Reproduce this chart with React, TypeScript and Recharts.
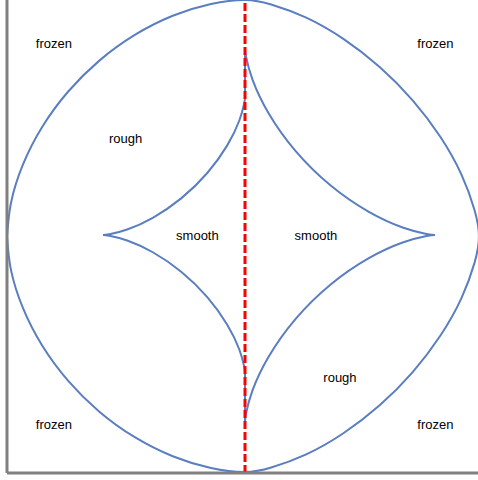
import { LineChart, Line, XAxis, YAxis, ReferenceLine, ReferenceDot } from "recharts";

// outer boundary (frozen / rough), read from the left extreme going down, round and back
const outerX = [
  -1.0, -0.9831, -0.9332, -0.8523, -0.7437, -0.612, -0.463, -0.3036, -0.1429, 0.0,
  0.1101, 0.2572, 0.4133, 0.5658, 0.7045, 0.8213, 0.9095, 0.9643, 0.983,
  0.9643, 0.9095, 0.8213, 0.7045, 0.5658, 0.4133, 0.2572, 0.1101, 0.0,
  -0.1429, -0.3036, -0.463, -0.612, -0.7437, -0.8523, -0.9332, -0.9831, -1.0,
];
const outerY = [
  0.0, -0.1423, -0.3023, -0.4611, -0.6094, -0.7406, -0.8487, -0.9293, -0.979, -0.9958,
  -0.9769, -0.9213, -0.832, -0.7137, -0.5732, -0.4186, -0.2605, -0.1115, 0.0,
  0.112, 0.2616, 0.4204, 0.5756, 0.7167, 0.8355, 0.9252, 0.981, 1.0,
  0.9831, 0.9332, 0.8523, 0.7437, 0.612, 0.463, 0.3036, 0.1429, 0.0,
];

// inner boundary (rough / smooth), four arcs between the cusps
const leftUpperX = [0, 0, 0, 0, -0.0031, -0.0239, -0.0746, -0.1585, -0.2682, -0.3875, -0.4951, -0.5698, -0.5966];
const leftUpperY = [0.797, 0.72, 0.65, 0.5898, 0.5636, 0.4905, 0.3853, 0.2686, 0.1613, 0.0792, 0.0296, 0.0094, 0.0063];
const leftLowerX = [-0.5966, -0.5698, -0.4951, -0.3875, -0.2682, -0.1585, -0.0746, -0.0239, -0.0031, 0, 0, 0, 0];
const leftLowerY = [0.0063, 0.0032, -0.017, -0.0666, -0.1487, -0.256, -0.3727, -0.4779, -0.551, -0.5772, -0.64, -0.71, -0.784];
const rightUpperX = [0, 0.0042, 0.0319, 0.0998, 0.212, 0.3588, 0.5185, 0.6624, 0.7625, 0.7983];
const rightUpperY = [0.797, 0.7615, 0.6624, 0.5199, 0.3617, 0.2163, 0.1051, 0.0379, 0.0104, 0.0063];
const rightLowerX = [0.7983, 0.7625, 0.6624, 0.5185, 0.3588, 0.212, 0.0998, 0.0319, 0.0042, 0];
const rightLowerY = [0.0063, 0.0022, -0.0253, -0.0925, -0.2037, -0.3491, -0.5073, -0.6498, -0.7489, -0.7844];

const regionNames = ["frozen", "frozen", "frozen", "frozen", "rough", "rough", "smooth", "smooth"];
const regionX = [-0.803, 0.8, -0.803, 0.8, -0.502, 0.399, -0.2, 0.298];
const regionY = [0.818, 0.818, -0.793, -0.795, 0.416, -0.594, 0.006, 0.006];

const toPoints = (xs: number[], ys: number[]) => xs.map((x, i) => ({ x, y: ys[i] }));

const BLUE = "#5a7ebf";
const AXIS = "#808080";

const curves = [
  { key: "outer", data: toPoints(outerX, outerY) },
  { key: "leftUpper", data: toPoints(leftUpperX, leftUpperY) },
  { key: "leftLower", data: toPoints(leftLowerX, leftLowerY) },
  { key: "rightUpper", data: toPoints(rightUpperX, rightUpperY) },
  { key: "rightLower", data: toPoints(rightLowerX, rightLowerY) },
];

export default function App() {
  return (
    <div
      style={{
        position: "absolute",
        left: 0,
        top: 0,
        width: 478,
        height: 480,
        overflow: "hidden",
        background: "#fff",
        fontFamily: "'Liberation Sans', Arial, sans-serif",
      }}
    >
      <LineChart width={483} height={480} margin={{ top: 0, right: 0, bottom: 0, left: 0 }}>
        <XAxis
          type="number"
          dataKey="x"
          domain={[-1, 1]}
          allowDataOverflow
          height={7}
          tick={false}
          tickLine={false}
          axisLine={{ stroke: AXIS, strokeWidth: 3 }}
        />
        <YAxis
          type="number"
          dataKey="y"
          domain={[-1, 1]}
          allowDataOverflow
          width={7}
          tick={false}
          tickLine={false}
          axisLine={{ stroke: AXIS, strokeWidth: 3 }}
        />
        {curves.map((c) => (
          <Line
            key={c.key}
            data={c.data}
            dataKey="y"
            type="natural"
            stroke={BLUE}
            strokeWidth={2}
            dot={false}
            activeDot={false}
            isAnimationActive={false}
          />
        ))}
        <ReferenceLine x={0} stroke="#ff0000" strokeWidth={3} strokeDasharray="8 3" />
        {regionNames.map((name, i) => (
          <ReferenceDot
            key={i}
            x={regionX[i]}
            y={regionY[i]}
            r={0}
            fill="none"
            stroke="none"
            label={{ value: name, position: "center", fill: "#000", fontSize: 13 }}
          />
        ))}
      </LineChart>
    </div>
  );
}
